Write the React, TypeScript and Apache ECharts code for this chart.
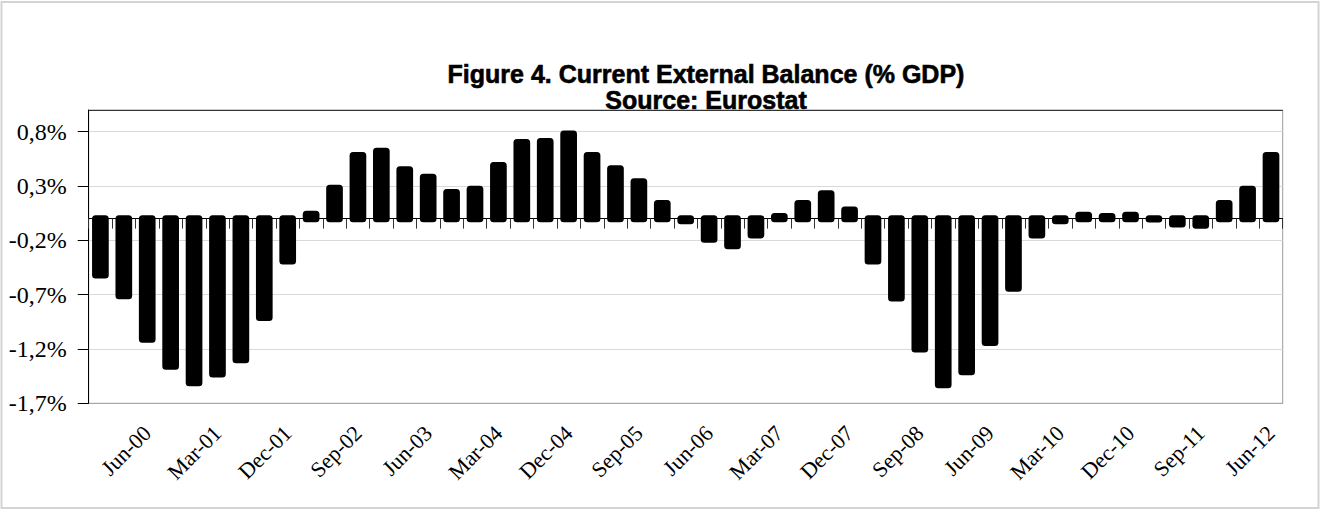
import React, { useEffect, useRef } from "react";
import * as echarts from "echarts";

const categories = [
  "Dec-99", "Mar-00", "Jun-00", "Sep-00", "Dec-00", "Mar-01", "Jun-01", "Sep-01", "Dec-01",
  "Mar-02", "Jun-02", "Sep-02", "Dec-02", "Mar-03", "Jun-03", "Sep-03", "Dec-03",
  "Mar-04", "Jun-04", "Sep-04", "Dec-04", "Mar-05", "Jun-05", "Sep-05", "Dec-05",
  "Mar-06", "Jun-06", "Sep-06", "Dec-06", "Mar-07", "Jun-07", "Sep-07", "Dec-07",
  "Mar-08", "Jun-08", "Sep-08", "Dec-08", "Mar-09", "Jun-09", "Sep-09", "Dec-09",
  "Mar-10", "Jun-10", "Sep-10", "Dec-10", "Mar-11", "Jun-11", "Sep-11", "Dec-11",
  "Mar-12", "Jun-12",
];

const balance = [
  -0.52, -0.71, -1.11, -1.36, -1.51, -1.43, -1.3, -0.91, -0.39,
  0.04, 0.28, 0.58, 0.62, 0.45, 0.38, 0.24, 0.27,
  0.49, 0.7, 0.71, 0.78, 0.58, 0.46, 0.34, 0.14,
  -0.02, -0.19, -0.25, -0.15, 0.02, 0.14, 0.23, 0.08,
  -0.39, -0.73, -1.2, -1.53, -1.41, -1.14, -0.64, -0.15,
  -0.02, 0.03, 0.02, 0.03, 0.0, -0.05, -0.06, 0.14,
  0.27, 0.58,
];

const titleLines = ["Figure 4. Current External Balance (% GDP)", "Source: Eurostat"];

const yMin = -1.7;
const yMax = 1.0;
const yStep = 0.5;

export default function App() {
  const ref = useRef<HTMLDivElement>(null);

  useEffect(() => {
    if (!ref.current) return;
    const chart = echarts.init(ref.current, null, { renderer: "svg" });
    const serif = "Liberation Serif";
    const titleFont = 'bold 25px "Liberation Sans"';
    chart.setOption({
      animation: false,
      backgroundColor: "#ffffff",
      graphic: [
        {
          type: "rect",
          shape: { x: 1.5, y: 2, width: 1317, height: 506 },
          style: { fill: "none", stroke: "#d4d4d4", lineWidth: 2 },
          silent: true,
        },
        {
          // mask the extra tick that ECharts draws at the axis maximum
          type: "rect",
          shape: { x: 74, y: 107, width: 14, height: 6 },
          style: { fill: "#ffffff" },
          silent: true,
          z: 100,
        },
        {
          type: "text",
          style: {
            text: titleLines[0],
            x: 706,
            y: 74,
            align: "center",
            verticalAlign: "middle",
            font: titleFont,
            fill: "#000",
            stroke: "#000",
            lineWidth: 0.6,
          },
        },
        {
          type: "text",
          style: {
            text: titleLines[1],
            x: 706,
            y: 100,
            align: "center",
            verticalAlign: "middle",
            font: titleFont,
            fill: "#000",
            stroke: "#000",
            lineWidth: 0.6,
          },
        },
      ],
      grid: {
        left: 88.7,
        right: 37.3,
        top: 110,
        bottom: 106.7,
        show: true,
        borderColor: "#9a9a9a",
        borderWidth: 1,
        containLabel: false,
        outerBoundsMode: "none",
      },
      xAxis: [
        {
          type: "category",
          data: categories,
          position: "bottom",
          boundaryGap: true,
          axisLine: { show: true, onZero: true, lineStyle: { color: "#000", width: 1 } },
          axisTick: { show: true, interval: 0, length: 10, inside: false, lineStyle: { color: "#333" } },
          axisLabel: { show: false },
          splitLine: { show: false },
          z: 1,
        },
        {
          type: "category",
          data: categories,
          position: "bottom",
          boundaryGap: true,
          axisLine: { show: false, onZero: false },
          axisTick: { show: false },
          axisLabel: {
            show: true,
            interval: (i: number) => i % 3 === 2,
            rotate: 45,
            margin: 26,
            fontFamily: serif,
            fontSize: 22,
            color: "#000",
          },
          splitLine: { show: false },
        },
      ],
      yAxis: {
        type: "value",
        min: yMin,
        max: yMax,
        interval: yStep,
        axisLine: { show: true, lineStyle: { color: "#000", width: 1 } },
        axisTick: { show: true, length: 11, inside: false, lineStyle: { color: "#000" } },
        axisLabel: {
          showMaxLabel: false,
          margin: 22,
          fontFamily: serif,
          fontSize: 24,
          color: "#000",
          formatter: (v: number) => v.toFixed(1).replace(".", ",") + "%",
        },
        splitLine: {
          show: true,
          lineStyle: {
            color: ["#a8a8a8", "#d9d9d9", "#d9d9d9", "#d9d9d9", "#d9d9d9", "#d9d9d9", "#333333"],
            width: 1,
          },
        },
      },
      series: [
        {
          type: "custom",
          xAxisIndex: 0,
          yAxisIndex: 0,
          data: balance.map((v, i) => [i, v]),
          encode: { x: 0, y: 1 },
          z: 3,
          renderItem: (params: any, api: any) => {
            const i = api.value(0);
            const v = api.value(1);
            const p0 = api.coord([i, 0]);
            const p1 = api.coord([i, v]);
            const band = api.size([1, 0])[0];
            const w = band * 0.414;
            const h = Math.max(Math.abs(p1[1] - p0[1]), 0.3);
            return {
              type: "rect",
              shape: { x: p0[0] - w / 2, y: Math.min(p0[1], p1[1]), width: w, height: h },
              style: { fill: "#000", stroke: "#000", lineWidth: 7, lineJoin: "round" },
            };
          },
        },
      ],
    });
    return () => chart.dispose();
  }, []);

  return (
    <div
      ref={ref}
      style={{ position: "absolute", left: 0, top: 0, width: 1320, height: 510, background: "#fff" }}
    />
  );
}
